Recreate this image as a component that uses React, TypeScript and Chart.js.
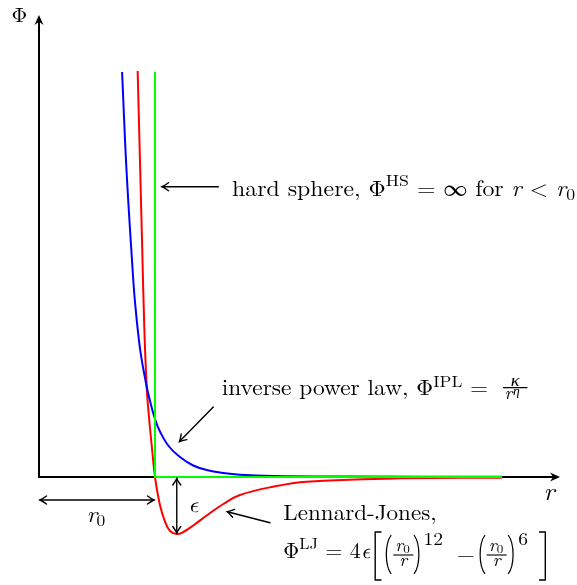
import React, { useEffect, useRef } from "react";
import { Chart, registerables } from "chart.js";

Chart.register(...registerables);

// Distances r are in units of r0, potential energies Φ in units of ε.
const ipR = [0.814, 0.839, 0.874, 0.887, 0.915, 0.949, 0.972, 1.0, 1.028, 1.079, 1.141, 1.216, 1.292, 1.386, 1.48, 1.667, 2.102, 2.961];
const ipPhi = [7.105, 5.386, 3.614, 3.07, 2.263, 1.649, 1.333, 1.018, 0.798, 0.535, 0.351, 0.202, 0.123, 0.07, 0.039, 0.018, 0.009, 0.004];

const ljR = [0.902, 0.915, 0.928, 0.94, 0.954, 0.966, 0.984, 1.0, 1.028, 1.057, 1.085, 1.123, 1.16, 1.216, 1.292, 1.386, 1.48, 1.667, 1.857, 2.384, 2.961];
const ljPhi = [7.123, 5.561, 3.982, 2.579, 1.526, 1.053, 0.474, 0, -0.491, -0.789, -0.947, -1.0, -0.965, -0.851, -0.675, -0.474, -0.316, -0.17, -0.082, -0.024, -0.011];

const hsR = [1, 1, 2.961];
const hsPhi = [7.105, 0, 0];

// Visible window of the plane
const R_MIN = 0.1243;
const R_MAX = 3.3842;
const PHI_MIN = -1.8947;
const PHI_MAX = 8.3684;

// Axis extent, well position and dimension line level
const AXIS_R_START = 0.3446;
const AXIS_R_END = 3.288;
const AXIS_PHI_END = 8.105;
const R_WELL = 1.123;
const PHI_WELL = -1.0;
const R0_DIM_PHI = -0.4035;

const FONT = "'Latin Modern Roman', 'Liberation Serif', serif";
const EPS_FONT = "'Latin Modern Math', 'Noto Serif', 'DejaVu Serif', serif";
const SX = 1.09; // horizontal set width of the type

type Seg = { t: string; size: number; it?: boolean; dy?: number; fam?: string };

function font(size: number, it?: boolean, fam = FONT) {
  return `${it ? "italic " : ""}${size}px ${fam}`;
}

// A run of text pieces fitted between x0 and x1 on one baseline
function richLine(ctx: CanvasRenderingContext2D, segs: Seg[], x0: number, x1: number, base: number) {
  const widths = segs.map((s) => {
    ctx.font = font(s.size, s.it, s.fam);
    return ctx.measureText(s.t).width;
  });
  const total = widths.reduce((a, b) => a + b, 0);
  const sx = (x1 - x0) / total;
  ctx.save();
  ctx.translate(x0, base);
  ctx.scale(sx, 1);
  let x = 0;
  segs.forEach((s, i) => {
    ctx.font = font(s.size, s.it, s.fam);
    ctx.fillText(s.t, x, s.dy || 0);
    x += widths[i];
  });
  ctx.restore();
}

function text(ctx: CanvasRenderingContext2D, t: string, x: number, y: number, size: number, it = false, align: CanvasTextAlign = "left", fam = FONT) {
  ctx.save();
  ctx.translate(x, y);
  ctx.scale(SX, 1);
  ctx.font = font(size, it, fam);
  ctx.textAlign = align;
  ctx.fillText(t, 0, 0);
  ctx.restore();
}

function stealth(ctx: CanvasRenderingContext2D, x: number, y: number, ang: number, len: number, hw: number) {
  ctx.save();
  ctx.translate(x, y);
  ctx.rotate(ang);
  ctx.beginPath();
  ctx.moveTo(0, 0);
  ctx.lineTo(-len, -hw);
  ctx.lineTo(-len * 0.68, 0);
  ctx.lineTo(-len, hw);
  ctx.closePath();
  ctx.fill();
  ctx.restore();
}

function toHead(ctx: CanvasRenderingContext2D, x: number, y: number, ang: number) {
  ctx.save();
  ctx.translate(x, y);
  ctx.rotate(ang);
  ctx.beginPath();
  ctx.moveTo(-6.5, -4);
  ctx.quadraticCurveTo(-2.2, -0.9, 0, 0);
  ctx.quadraticCurveTo(-2.2, 0.9, -6.5, 4);
  ctx.stroke();
  ctx.restore();
}

function arrow(ctx: CanvasRenderingContext2D, x0: number, y0: number, x1: number, y1: number, both = false) {
  ctx.beginPath();
  ctx.moveTo(x0, y0);
  ctx.lineTo(x1, y1);
  ctx.stroke();
  const a = Math.atan2(y1 - y0, x1 - x0);
  toHead(ctx, x1, y1, a);
  if (both) toHead(ctx, x0, y0, a + Math.PI);
}

function paren(ctx: CanvasRenderingContext2D, x: number, top: number, bot: number, bulge: number) {
  ctx.beginPath();
  ctx.moveTo(x, top);
  ctx.bezierCurveTo(x + bulge, top + 9, x + bulge, bot - 9, x, bot);
  ctx.stroke();
}

function bracket(ctx: CanvasRenderingContext2D, xOuter: number, xInner: number, top: number, bot: number) {
  ctx.beginPath();
  ctx.moveTo(xInner, top);
  ctx.lineTo(xOuter, top);
  ctx.lineTo(xOuter, bot);
  ctx.lineTo(xInner, bot);
  ctx.stroke();
}

// r0 / r as a small built-up fraction
function ratio(ctx: CanvasRenderingContext2D, x: number) {
  ctx.lineWidth = 1.1;
  ctx.beginPath();
  ctx.moveTo(x, 555);
  ctx.lineTo(x + 20, 555);
  ctx.stroke();
  text(ctx, "r", x + 2, 550.5, 17, true);
  text(ctx, "0", x + 10, 552.5, 12);
  text(ctx, "r", x + 6, 566, 17, true);
}

const decor = {
  id: "decor",
  beforeDatasetsDraw(chart: Chart) {
    const ctx = chart.ctx;
    const X = (v: number) => chart.scales.x.getPixelForValue(v);
    const Y = (v: number) => chart.scales.y.getPixelForValue(v);
    const ox = X(AXIS_R_START);
    const oy = Y(0);
    const xt = X(AXIS_R_END);
    const yt = Y(AXIS_PHI_END);
    ctx.save();
    ctx.strokeStyle = "#000";
    ctx.fillStyle = "#000";
    ctx.lineWidth = 2;
    ctx.lineJoin = "miter";
    ctx.beginPath();
    ctx.moveTo(ox, yt + 6);
    ctx.lineTo(ox, oy);
    ctx.lineTo(xt - 6, oy);
    ctx.stroke();
    stealth(ctx, ox, yt, -Math.PI / 2, 10, 4.5);
    stealth(ctx, xt, oy, 0, 10, 4.5);
    ctx.restore();
  },
  afterDatasetsDraw(chart: Chart) {
    const ctx = chart.ctx;
    const X = (v: number) => chart.scales.x.getPixelForValue(v);
    const Y = (v: number) => chart.scales.y.getPixelForValue(v);
    ctx.save();
    ctx.fillStyle = "#000";
    ctx.strokeStyle = "#000";
    ctx.lineWidth = 1.4;
    ctx.lineCap = "round";

    // axis labels
    text(ctx, "Φ", 11.5, 21.7, 20);
    text(ctx, "r", 543.5, 500, 24, true);

    // r0 dimension
    arrow(ctx, X(AXIS_R_START) + 1, Y(R0_DIM_PHI), X(1) - 1, Y(R0_DIM_PHI), true);
    text(ctx, "r", 86.5, 522, 23, true);
    text(ctx, "0", 96.5, 526, 16);

    // ε depth
    arrow(ctx, X(R_WELL), Y(0) + 1.5, X(R_WELL), Y(PHI_WELL) - 1, true);
    text(ctx, "ϵ", 188, 512, 22, true, "left", EPS_FONT);

    // hard sphere
    ctx.lineWidth = 1.4;
    arrow(ctx, 218.3, 186.7, 162, 186.7);
    richLine(
      ctx,
      [
        { t: "hard sphere, ", size: 21.5 },
        { t: "Φ", size: 21.5 },
        { t: "HS", size: 16, dy: -10 },
        { t: " = ∞ for ", size: 21.5 },
        { t: "r", size: 21.5, it: true },
        { t: " < ", size: 21.5 },
        { t: "r", size: 21.5, it: true },
        { t: "0", size: 16, dy: 4 },
      ],
      232,
      575,
      196
    );

    // inverse power law
    ctx.lineWidth = 1.4;
    arrow(ctx, 213.3, 407, 179.5, 441.5);
    richLine(
      ctx,
      [
        { t: "inverse power law, ", size: 21.5 },
        { t: "Φ", size: 21.5 },
        { t: "IPL", size: 16, dy: -8.5 },
        { t: " =", size: 21.5 },
      ],
      221.7,
      488.3,
      395
    );
    ctx.lineWidth = 1.1;
    ctx.beginPath();
    ctx.moveTo(503.5, 387.6);
    ctx.lineTo(527, 387.6);
    ctx.stroke();
    text(ctx, "κ", 515.3, 385.5, 17, true, "center");
    text(ctx, "r", 504.5, 399, 17, true);
    text(ctx, "η", 513, 394.5, 12.5, true);

    // Lennard-Jones
    ctx.lineWidth = 1.4;
    arrow(ctx, 270, 522.7, 227.3, 511.7);
    richLine(ctx, [{ t: "Lennard-Jones,", size: 21.5 }], 283.3, 436.7, 520);
    richLine(
      ctx,
      [
        { t: "Φ", size: 21.5 },
        { t: "LJ", size: 16, dy: -9 },
        { t: " = 4", size: 21.5 },
        { t: "ϵ", size: 21.5, it: true, fam: EPS_FONT },
      ],
      283.3,
      370,
      558
    );
    ctx.lineWidth = 1.4;
    ctx.lineCap = "butt";
    bracket(ctx, 375.2, 381.5, 532, 580);
    bracket(ctx, 545.3, 539, 532, 580);
    ctx.lineWidth = 1.2;
    paren(ctx, 391.2, 535, 574, -6.5);
    paren(ctx, 414, 535, 574, 6.5);
    paren(ctx, 485, 535, 574, -6.5);
    paren(ctx, 508.2, 535, 574, 6.5);
    ratio(ctx, 393.3);
    ratio(ctx, 486.7);
    text(ctx, "12", 423.5, 545, 18);
    text(ctx, "−", 465.8, 562, 21.5, false, "center");
    text(ctx, "6", 518.3, 545, 18);
    ctx.restore();
  },
};

const pts = (xs: number[], ys: number[]) => xs.map((x, i) => ({ x, y: ys[i] }));

export default function App() {
  const ref = useRef<HTMLCanvasElement>(null);
  useEffect(() => {
    const chart = new Chart(ref.current!, {
      type: "scatter",
      data: {
        datasets: [
          {
            label: "hard sphere",
            data: pts(hsR, hsPhi),
            showLine: true,
            borderColor: "#00ff00",
            borderWidth: 2,
            pointRadius: 0,
            tension: 0,
            order: 0,
          },
          {
            label: "inverse power law",
            data: pts(ipR, ipPhi),
            showLine: true,
            borderColor: "#0000ff",
            borderWidth: 2,
            pointRadius: 0,
            tension: 0.4,
            order: 1,
          },
          {
            label: "Lennard-Jones",
            data: pts(ljR, ljPhi),
            showLine: true,
            borderColor: "#ff0000",
            borderWidth: 2,
            pointRadius: 0,
            tension: 0.4,
            order: 2,
          },
        ],
      },
      options: {
        responsive: false,
        animation: false,
        devicePixelRatio: 1,
        events: [],
        layout: { padding: 0 },
        plugins: { legend: { display: false }, tooltip: { enabled: false } },
        scales: {
          x: { type: "linear", min: R_MIN, max: R_MAX, display: false },
          y: { type: "linear", min: PHI_MIN, max: PHI_MAX, display: false },
        },
      },
      plugins: [decor],
    });
    return () => chart.destroy();
  }, []);
  return (
    <div style={{ position: "absolute", left: 0, top: 0, width: 577, height: 585, background: "#fff" }}>
      <canvas ref={ref} width={577} height={585} style={{ display: "block" }} />
    </div>
  );
}
